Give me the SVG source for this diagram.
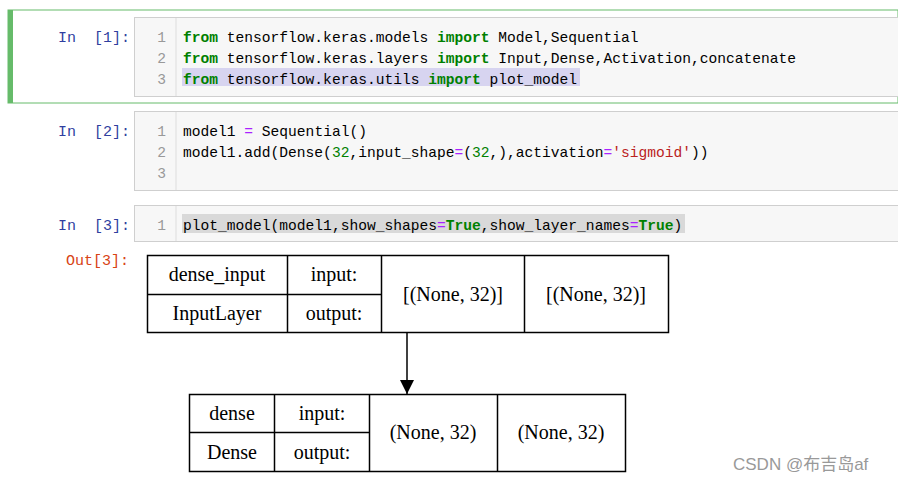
<svg xmlns="http://www.w3.org/2000/svg" width="898" height="482" viewBox="0 0 898 482">
<style>
.p{font-family:"Liberation Mono",monospace;font-size:15px;fill:#303f9f;white-space:pre}
.c{font-family:"Liberation Mono",monospace;font-size:14.6px;fill:#000}
.n{font-family:"Liberation Mono",monospace;font-size:14.6px;fill:#999;text-anchor:end}
.k{fill:#008000;font-weight:bold}
.g{fill:#008000}
.m{fill:#aa22ff}
.s{fill:#ba2121}
.cell{fill:#f7f7f7;stroke:#cfcfcf}
.t{font-family:"Liberation Serif",serif;font-size:20px;text-anchor:middle;fill:#000}
.b{fill:#fff;stroke:#000;stroke-width:1.5}
</style>
<defs><marker id="a" markerWidth="14" markerHeight="14" refX="14" refY="7" orient="auto" markerUnits="userSpaceOnUse"><path d="M0,0L14,7L0,14z" fill="#000"/></marker></defs>
<rect width="898" height="482" fill="#fff"/>
<rect x="8" y="10" width="890" height="93" fill="#fff" stroke="#66bb6a"/>
<rect x="8" y="10" width="5" height="93" fill="#66bb6a"/>
<rect class="cell" x="134.5" y="17.5" width="770" height="79"/>
<line x1="176" y1="18" x2="176" y2="96" stroke="#ddd"/>
<rect x="182" y="68" width="398" height="18" fill="#d7d4f0"/>
<text class="p" x="58" y="42">In  [1]:</text>
<text class="n" x="166" y="42">1</text><text class="n" x="166" y="63">2</text><text class="n" x="166" y="84">3</text>
<text class="c" x="183" y="42"><tspan class="k">from</tspan> tensorflow.keras.models <tspan class="k">import</tspan> Model,Sequential</text>
<text class="c" x="183" y="63"><tspan class="k">from</tspan> tensorflow.keras.layers <tspan class="k">import</tspan> Input,Dense,Activation,concatenate</text>
<text class="c" x="183" y="84"><tspan class="k">from</tspan> tensorflow.keras.utils <tspan class="k">import</tspan> plot_model</text>
<rect class="cell" x="134.5" y="111.5" width="770" height="79"/>
<line x1="176" y1="112" x2="176" y2="190" stroke="#ddd"/>
<text class="p" x="58" y="136">In  [2]:</text>
<text class="n" x="166" y="136">1</text><text class="n" x="166" y="157">2</text><text class="n" x="166" y="178">3</text>
<text class="c" x="183" y="136">model1 <tspan class="m">=</tspan> Sequential()</text>
<text class="c" x="183" y="157">model1.add(Dense(<tspan class="g">32</tspan>,input_shape<tspan class="m">=</tspan>(<tspan class="g">32</tspan>,),activation<tspan class="m">=</tspan><tspan class="s">'sigmoid'</tspan>))</text>
<rect class="cell" x="134.5" y="205.5" width="770" height="36"/>
<line x1="176" y1="206" x2="176" y2="241" stroke="#ddd"/>
<rect x="182" y="214" width="503" height="19" fill="#d9d9d9"/>
<text class="p" x="58" y="230">In  [3]:</text>
<text class="n" x="166" y="230">1</text>
<text class="c" x="183" y="230">plot_model(model1,show_shapes<tspan class="m">=</tspan><tspan class="k">True</tspan>,show_layer_names<tspan class="m">=</tspan><tspan class="k">True</tspan>)</text>
<text class="p" x="66" y="265" style="fill:#d84315">Out[3]:</text>
<g id="dense_input">
<rect class="b" x="147.5" y="255.5" width="521" height="77"/>
<path d="M287.5 255v78M381.5 255v78M524.5 255v78M147 294.5h234" stroke="#000" stroke-width="1.5"/>
<text class="t" x="217" y="281">dense_input</text>
<text class="t" x="334" y="281">input:</text>
<text class="t" x="217" y="320">InputLayer</text>
<text class="t" x="334" y="320">output:</text>
<text class="t" x="453" y="301">[(None, 32)]</text>
<text class="t" x="596" y="301">[(None, 32)]</text>
</g>
<g id="dense">
<rect class="b" x="189.5" y="394.5" width="436" height="77"/>
<path d="M274.5 394v78M369.5 394v78M497.5 394v78M189 432.5h180" stroke="#000" stroke-width="1.5"/>
<text class="t" x="232" y="420">dense</text>
<text class="t" x="322" y="420">input:</text>
<text class="t" x="232" y="459">Dense</text>
<text class="t" x="322" y="459">output:</text>
<text class="t" x="433" y="439">(None, 32)</text>
<text class="t" x="561" y="439">(None, 32)</text>
</g>
<g id="connectors">
<line x1="407" y1="333" x2="407" y2="394" stroke="#000" stroke-width="1.5" marker-end="url(#a)"/>
</g>
<text x="733" y="470" style="font-family:'Liberation Sans','Noto Sans CJK SC',sans-serif;font-size:17px;fill:#999">CSDN @布吉岛af</text>
</svg>
